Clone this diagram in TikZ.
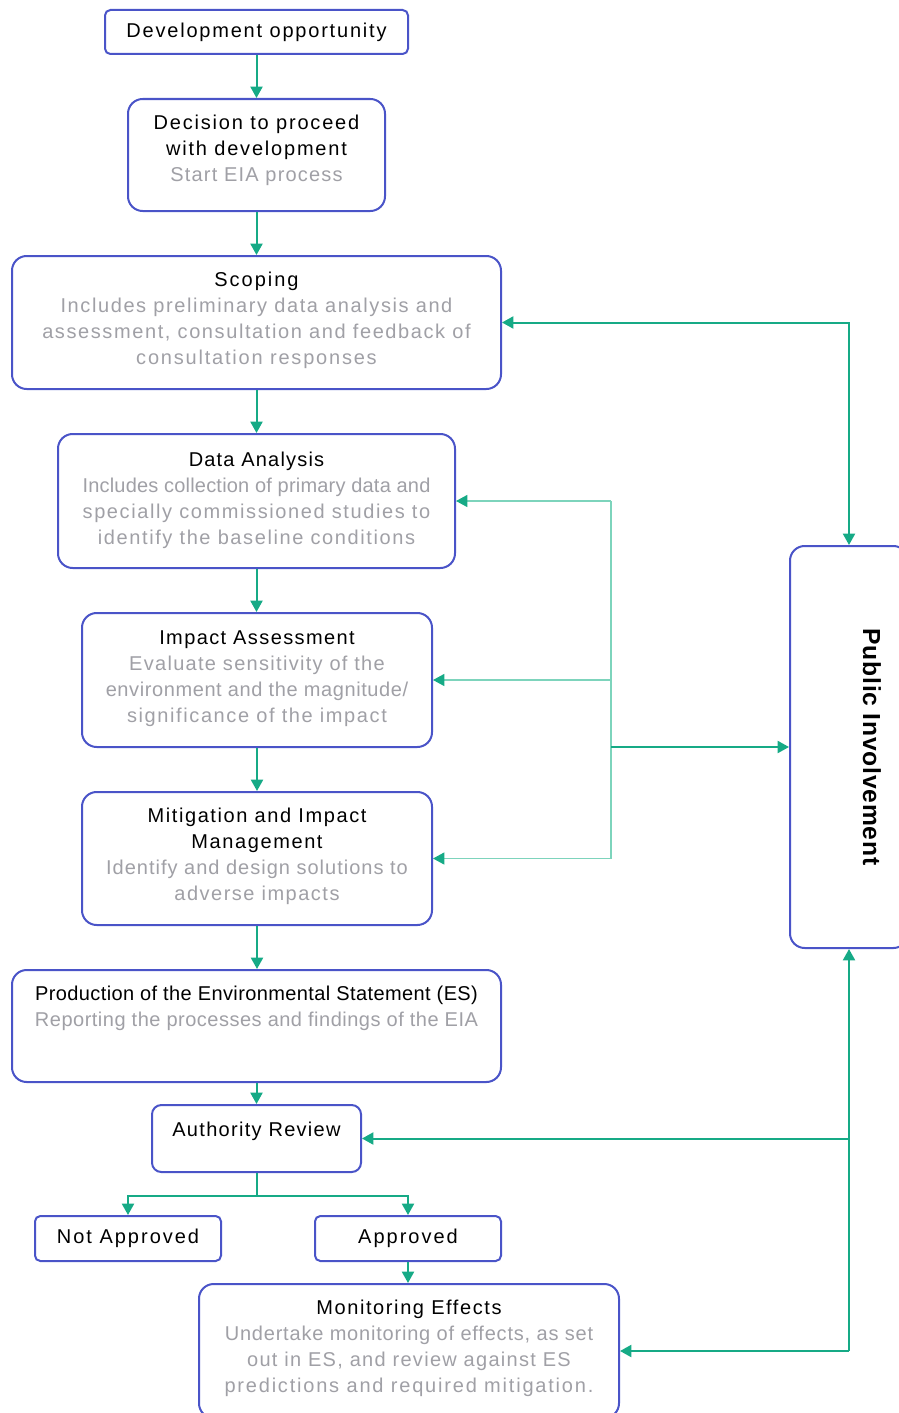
\documentclass[tikz,border=0pt]{standalone}
\usepackage{fontspec}
\setmainfont[LetterSpace=8]{Liberation Sans}
\usetikzlibrary{arrows.meta}
\definecolor{boxblue}{RGB}{74,84,200}
\definecolor{teal2}{RGB}{22,170,134}
\definecolor{lteal}{RGB}{125,212,188}
\definecolor{tgray}{RGB}{160,160,166}
\newcommand\LS[1]{\addfontfeature{LetterSpace=#1}}
\newcommand\gr[1]{{\color{tgray}#1}}
\begin{document}
\begin{tikzpicture}[x=0.75pt,y=-0.75pt,
  box/.style={draw=boxblue,line width=1.5pt,rounded corners=11pt,fill=white,inner sep=0pt,
    font=\fontsize{15pt}{19.5pt}\selectfont},
  sbox/.style={box,rounded corners=4pt},
  txt/.style={align=center,inner sep=0pt,anchor=north,font=\fontsize{15pt}{19.5pt}\selectfont},
  tip/.style={-{Triangle[length=8.5pt,width=9pt,color=teal2]}},
  arr/.style={draw=teal2,line width=1.5pt,tip},
  arrb/.style={draw=teal2,line width=1.5pt,{Triangle[length=8.5pt,width=9pt]}-{Triangle[length=8.5pt,width=9pt]}},
  thinarr/.style={draw=lteal,line width=0.9pt,tip},
  thinline/.style={draw=lteal,line width=0.9pt},
  line/.style={draw=teal2,line width=1.5pt}
]
\useasboundingbox (0,0) rectangle (899,1413);
\clip (0,0) rectangle (899,1413);

% boxes
\node[sbox,minimum width=227.25pt,minimum height=33pt] (dev) at (256.5,32) {\LS{9}Development opportunity};
\node[box,minimum width=192.75pt,minimum height=84pt] (dec) at (256.5,155) {};
\node[box,minimum width=366.75pt,minimum height=99.75pt] (scp) at (256.5,322.5) {};
\node[box,minimum width=297.75pt,minimum height=100.5pt] (da) at (256.5,501) {};
\node[box,minimum width=262.5pt,minimum height=100.5pt] (ia) at (257,680) {};
\node[box,minimum width=262.5pt,minimum height=99.75pt] (mit) at (257,858.5) {};
\node[box,minimum width=366.75pt,minimum height=84pt] (es) at (256.5,1026) {};
\node[box,rounded corners=7pt,minimum width=156.75pt,minimum height=50.25pt] (ar) at (256.5,1138.5) {};
\node[sbox,minimum width=139.5pt,minimum height=33.75pt] (na) at (128,1238.5) {\LS{10}Not Approved};
\node[sbox,minimum width=139.5pt,minimum height=33.75pt] (ap) at (408,1238.5) {\LS{10}Approved};
\node[box,minimum width=315pt,minimum height=100.5pt] (mon) at (409,1351) {};
\node[box,minimum width=88.5pt,minimum height=301.5pt] (pi) at (849,747) {};

% texts
\node[txt] (dec-t) at (256.5,115) {{\LS{9}Decision to proceed}\\{\LS{9}with development}\\\gr{\LS{6}Start EIA process}};
\node[txt] (scp-t) at (256.5,272) {{\LS{10}Scoping}\\\gr{\LS{8}Includes preliminary data analysis and}\\\gr{\LS{8}assessment, consultation and feedback of}\\\gr{\LS{9}consultation responses}};
\node[txt] (da-t) at (256.5,452) {{\LS{6}Data Analysis}\\\gr{\LS{1}Includes collection of primary data and}\\\gr{\LS{8}specially commissioned studies to}\\\gr{\LS{8}identify the baseline conditions}};
\node[txt] (ia-t) at (257,630) {{\LS{7}Impact Assessment}\\\gr{\LS{6.5}Evaluate sensitivity of the}\\\gr{\LS{3}environment and the magnitude/}\\\gr{\LS{8}significance of the impact}};
\node[txt] (mit-t) at (257,808) {{\LS{8}Mitigation and Impact}\\{\LS{8}Management}\\\gr{\LS{5}Identify and design solutions to}\\\gr{\LS{7.5}adverse impacts}};
\node[txt] (es-t) at (256.5,986) {{\LS{2}Production of the Environmental Statement (ES)}\\\gr{\LS{2.5}Reporting the processes and findings of the EIA}};
\node[txt] (ar-t) at (256.5,1122) {\LS{6.5}Authority Review};
\node[txt] (mon-t) at (409,1300) {{\LS{8}Monitoring Effects}\\\gr{\LS{4}Undertake monitoring of effects, as set}\\\gr{\LS{6.5}out in ES, and review against ES}\\\gr{\LS{9}predictions and required mitigation.}};
\node[inner sep=0pt,rotate=-90,font=\fontsize{18.5pt}{20pt}\selectfont\bfseries\LS{3}] (pi-t) at (872,747) {Public Involvement};

% main chain
\draw[arr] (dev) -- (dev |- dec.north);
\draw[arr] (dec) -- (dec |- scp.north);
\draw[arr] (scp) -- (scp |- da.north);
\draw[arr] (da) -- (da |- ia.north);
\draw[arr] (ia) -- (ia |- mit.north);
\draw[arr] (mit) -- (mit |- es.north);
\draw[arr] (es) -- (es |- ar.north);
\coordinate (fork) at ([yshift=-17.25pt]ar.south);
\draw[line] (ar.south) -- (fork);
\draw[arr] (fork) -| (na.north);
\draw[arr] (fork) -| (ap.north);
\draw[arr] (ap) -- (ap |- mon.north);

% public involvement links
\draw[arrb] (scp.east) -| (pi.north);
\coordinate (fbt) at (611,501);
\coordinate (fbb) at (fbt |- mit.east);
\draw[thinline] (fbt) -- (fbb);
\draw[thinarr] (fbt) -- (da.east);
\draw[thinarr] (fbt |- ia.east) -- (ia.east);
\draw[thinarr] (fbb) -- (mit.east);
\draw[arr] (fbt |- pi.west) -- (pi.west);
\coordinate (bt) at (pi.south |- mon.east);
\draw[arr] (bt) -- (pi.south);
\draw[arr] (bt) -- (mon.east);
\draw[arr] (pi.south |- ar.east) -- (ar.east);
\end{tikzpicture}
\end{document}
